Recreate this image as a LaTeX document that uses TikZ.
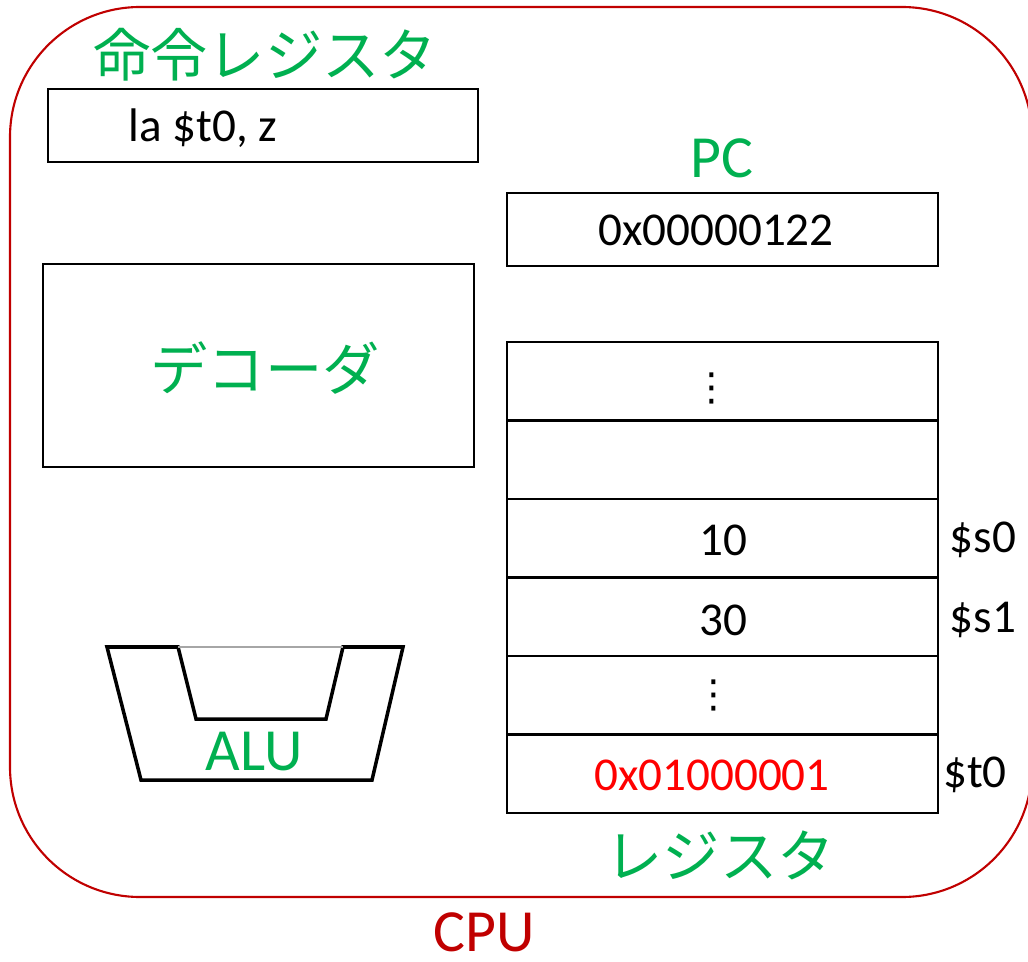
\documentclass[tikz,border=0pt]{standalone}
\usepackage{fontspec}
\setmainfont{Carlito}
\newfontfamily\jpfont{Noto Sans CJK JP}
\newfontfamily\symfont{DejaVu Sans}
\definecolor{lblgreen}{HTML}{00B050}
\definecolor{cpured}{HTML}{C00000}
\definecolor{valred}{HTML}{FF0000}
\begin{document}
\begin{tikzpicture}[x=0.01cm,y=-0.01cm,
  box/.style={draw=black, line width=0.6pt, inner sep=0pt, outer sep=0pt, fill=white},
  reg/.style={box, minimum width=4.31cm, minimum height=0.785cm},
  txt/.style={inner sep=0pt, font=\fontsize{13.4}{16}\selectfont},
  dots/.style={inner sep=0pt, font=\symfont\fontsize{11}{13}\selectfont},
  jplbl/.style={inner sep=0pt, text=lblgreen, font=\jpfont\fontsize{16.3}{20}\selectfont},
  biglbl/.style={inner sep=0pt, font=\fontsize{17}{20}\selectfont}]
\useasboundingbox (0,0) rectangle (1028,961);
% CPU frame
\draw[cpured, line width=0.6pt, rounded corners=1.3cm] (10,7) rectangle (1032,897);
% instruction register
\node[jplbl] (irlbl) at (265,55) {命令レジスタ};
\node[box, minimum width=4.30cm, minimum height=0.73cm] (ir) at (263,125.5) {};
\node[txt, anchor=west] (irt) at (128,128) {la \$t0, z};
% PC
\node[biglbl, text=lblgreen] (pclbl) at (722,158) {PC};
\node[box, minimum width=4.31cm, minimum height=0.73cm] (pc) at (722.5,229.5) {};
\node[txt] (pct) at (716,230) {0x00000122};
% decoder
\node[box, minimum width=4.31cm, minimum height=2.03cm] (dec) at (258.5,365.5) {};
\node[jplbl] (dect) at (265,368) {デコーダ};
% registers
\node[reg] (r1) at (722.5,381.25) {};
\node[reg] (r2) at (722.5,459.75) {};
\node[reg] (r3) at (722.5,538.25) {};
\node[reg] (r4) at (722.5,616.75) {};
\node[reg] (r5) at (722.5,695.25) {};
\node[reg] (r6) at (722.5,773.75) {};
\node[dots] (r1t) at (712,388) {⋮};
\node[txt] (r3t) at (723,540) {10};
\node[txt] (r4t) at (723,620) {30};
\node[dots] (r5t) at (714,695) {⋮};
\node[txt, text=valred] (r6t) at (712,775) {0x01000001};
\node[txt] (s0) at (983,540) {\$s0};
\node[txt] (s1) at (983,620) {\$s1};
\node[txt] (t0) at (975,775) {\$t0};
\node[jplbl] (reglbl) at (720,855) {レジスタ};
% ALU
\draw[line width=1pt, line join=miter]
  (178,647) -- (107,647) -- (141,780) -- (372,780) -- (403,647) -- (343,647)
  -- (326,719) -- (196,719) -- cycle;
\draw[gray!70, line width=0.3pt] (178,647) -- (343,647);
\node[biglbl, text=lblgreen] (alu) at (254,752) {ALU};
% CPU label
\node[biglbl, text=cpured] (cpu) at (484,932) {CPU};
\end{tikzpicture}
\end{document}
